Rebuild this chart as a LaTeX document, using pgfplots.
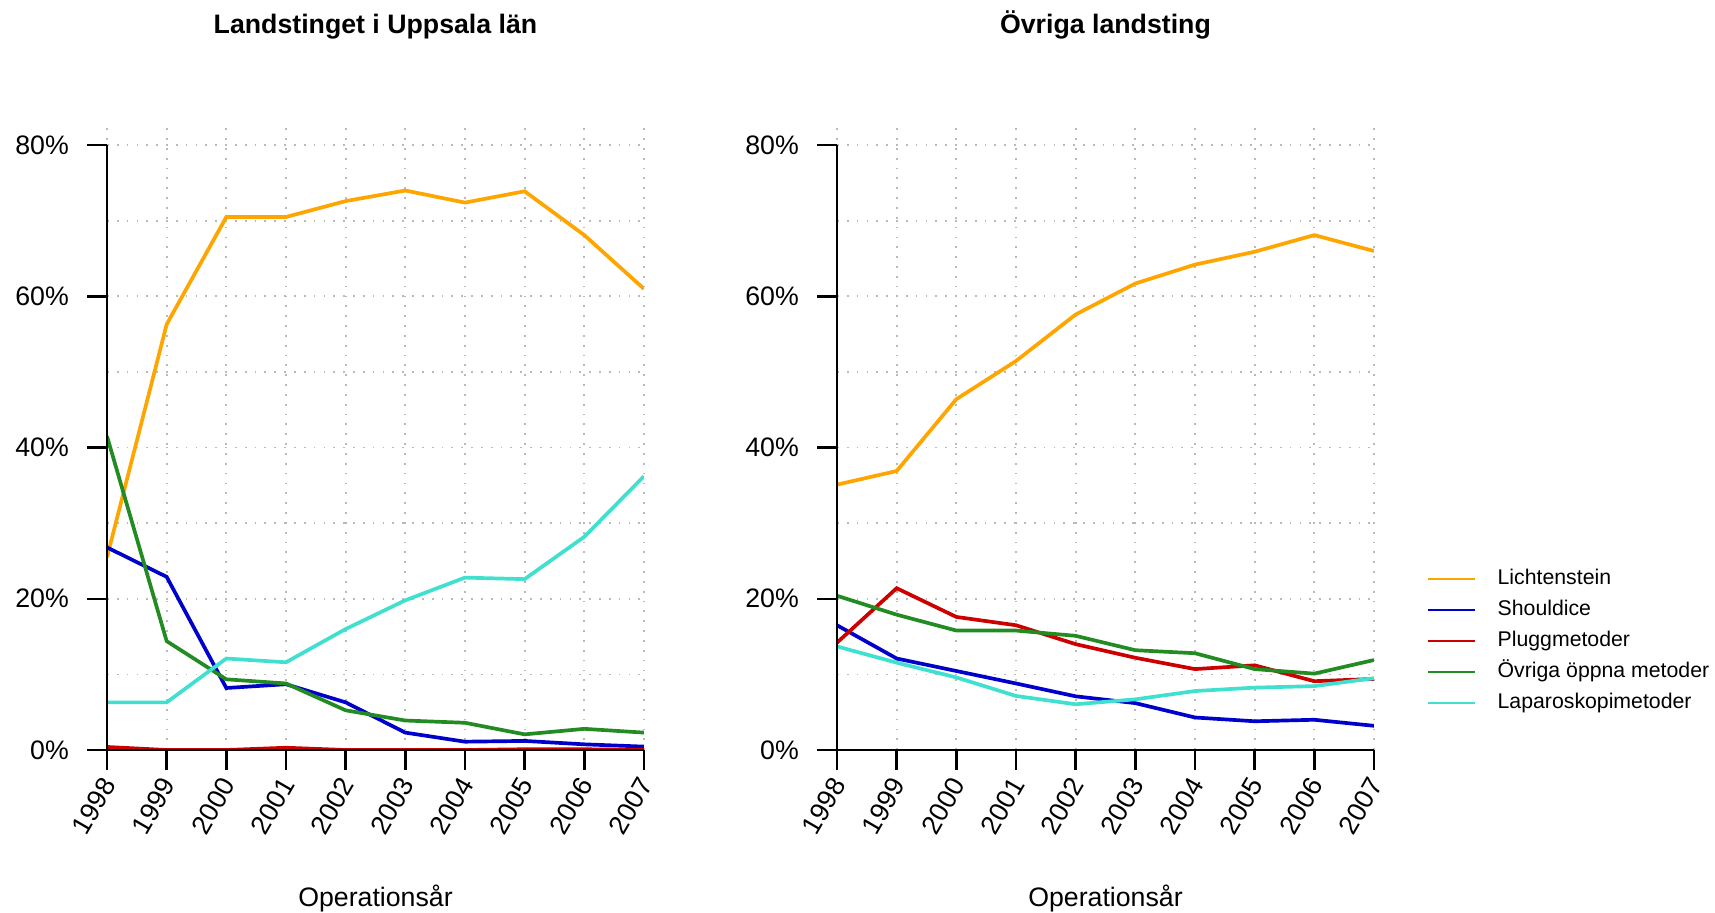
\documentclass[border=0pt]{standalone}
\usepackage{fontspec}
\setmainfont{Liberation Sans}
\usepackage{pgfplots}
\pgfplotsset{compat=1.18}

\definecolor{corange}{HTML}{FFA500}
\definecolor{cblue}{HTML}{0000CD}
\definecolor{cred}{HTML}{CD0000}
\definecolor{cgreen}{HTML}{228B22}
\definecolor{ccyan}{HTML}{40E0D0}

\newcommand{\fs}{\fontsize{7.6}{9}\selectfont}

\pgfplotsset{
  panel/.style={
    width=5.37cm, height=6.23cm, scale only axis,
    xmin=1998, xmax=2007, ymin=0, ymax=82.4,
    clip mode=individual,
    axis x line=bottom, axis y line=left,
    axis line style={draw=none,-},
    xtick={1998,1999,2000,2001,2002,2003,2004,2005,2006,2007},
    xticklabels={1998,1999,2000,2001,2002,2003,2004,2005,2006,2007},
    ytick={0,20,40,60,80}, minor ytick={10,30,50,70},
    yticklabels={0\%,20\%,40\%,60\%,80\%},
    grid=both,
    grid style={gray!55, line width=0.5pt, dash pattern=on 0.5pt off 2.3pt},
    minor grid style={gray!55, line width=0.5pt, dash pattern=on 0.5pt off 2.3pt},
    major tick length=0.2cm, minor tick length=0pt, tick align=outside,
    tick style={black, line width=0.7pt},
    every tick label/.append style={font=\fs},
    xticklabel style={xshift=-0.08cm, rotate=60, anchor=north east, inner sep=1pt},
    yticklabel style={inner sep=1pt, xshift=-0.14cm},
    title style={at={(0.5,1)}, anchor=base, yshift=0.72cm, font=\fs\bfseries},
    xlabel=Operationsår,
    xlabel style={at={(axis description cs:0.5,0)}, anchor=base, yshift=-1.56cm, font=\fs},
    every axis plot/.append style={line width=1.05pt, mark=none},
  },
}

\begin{document}
\begin{tikzpicture}
\useasboundingbox (0,0) rectangle (17.15,9.12);

\begin{axis}[panel, at={(1.07cm,1.62cm)}, anchor=south west,
  title={Landstinget i Uppsala län}]
  \addplot[corange] coordinates {(1998,25.5) (1999,56.3) (2000,70.5) (2001,70.5) (2002,72.6) (2003,74.0) (2004,72.4) (2005,73.9) (2006,68.1) (2007,61.0)};
  \addplot[cblue] coordinates {(1998,26.8) (1999,22.9) (2000,8.2) (2001,8.7) (2002,6.3) (2003,2.3) (2004,1.1) (2005,1.2) (2006,0.75) (2007,0.45)};
  \addplot[cred] coordinates {(1998,0.4) (1999,0.0) (2000,0.0) (2001,0.3) (2002,0.0) (2003,0.0) (2004,0.0) (2005,0.1) (2006,0.1) (2007,0.0)};
  \addplot[cgreen] coordinates {(1998,41.5) (1999,14.4) (2000,9.35) (2001,8.8) (2002,5.25) (2003,3.9) (2004,3.6) (2005,2.07) (2006,2.8) (2007,2.3)};
  \addplot[ccyan] coordinates {(1998,6.3) (1999,6.3) (2000,12.1) (2001,11.6) (2002,16.0) (2003,19.8) (2004,22.8) (2005,22.6) (2006,28.2) (2007,36.2)};
  \draw[black, line width=0.7pt] (axis cs:1998,0) -- (axis cs:1998,80);
  \draw[black, line width=0.7pt] (axis cs:1998,0) -- (axis cs:2007,0);
\end{axis}

\begin{axis}[panel, at={(8.37cm,1.62cm)}, anchor=south west,
  title={Övriga landsting},
  legend cell align=left,
  legend image code/.code={\draw[#1, line width=0.45pt] (0cm,0cm) -- (0.47cm,0cm);},
  legend style={draw=none, fill=none, at={(1.078,0.175)}, anchor=west,
    font=\fontsize{6.05}{7}\selectfont, row sep=0.1cm,
    /tikz/every node/.style={anchor=west, inner sep=0pt, text height=0.16cm, text depth=0.05cm},
    /tikz/every odd column/.append style={column sep=0.22cm}},
  ]
  \addplot[corange] coordinates {(1998,35.1) (1999,36.9) (2000,46.4) (2001,51.45) (2002,57.6) (2003,61.7) (2004,64.2) (2005,65.9) (2006,68.1) (2007,66.0)};
  \addplot[cblue] coordinates {(1998,16.5) (1999,12.1) (2000,10.45) (2001,8.8) (2002,7.1) (2003,6.2) (2004,4.3) (2005,3.8) (2006,4.0) (2007,3.2)};
  \addplot[cred] coordinates {(1998,14.2) (1999,21.4) (2000,17.6) (2001,16.5) (2002,14.0) (2003,12.2) (2004,10.7) (2005,11.2) (2006,9.1) (2007,9.4)};
  \addplot[cgreen] coordinates {(1998,20.4) (1999,17.9) (2000,15.8) (2001,15.8) (2002,15.1) (2003,13.2) (2004,12.8) (2005,10.7) (2006,10.1) (2007,11.9)};
  \addplot[ccyan] coordinates {(1998,13.7) (1999,11.55) (2000,9.6) (2001,7.15) (2002,6.05) (2003,6.7) (2004,7.8) (2005,8.25) (2006,8.45) (2007,9.5)};
  \legend{Lichtenstein,Shouldice,Pluggmetoder,Övriga öppna metoder,Laparoskopimetoder}
  \draw[black, line width=0.7pt] (axis cs:1998,0) -- (axis cs:1998,80);
  \draw[black, line width=0.7pt] (axis cs:1998,0) -- (axis cs:2007,0);
\end{axis}
\end{tikzpicture}
\end{document}
